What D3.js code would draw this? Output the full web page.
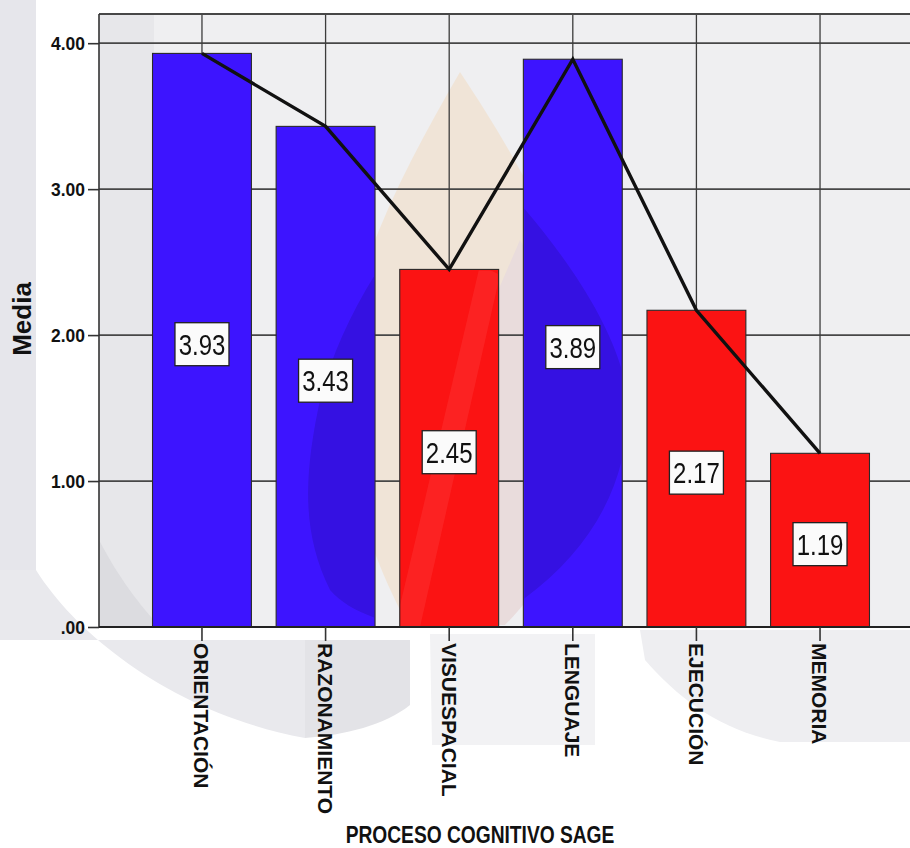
<!DOCTYPE html>
<html>
<head>
<meta charset="utf-8">
<script src="https://cdn.jsdelivr.net/npm/d3@7"></script>
<style>
  html, body { margin: 0; padding: 0; background: #ffffff; }
  svg { display: block; font-family: "Liberation Sans", Arial, sans-serif; }
</style>
</head>
<body>
<svg id="chart" width="910" height="848"></svg>
<script>
// Mean score per SAGE cognitive process
const categories = ["ORIENTACIÓN", "RAZONAMIENTO", "VISUESPACIAL", "LENGUAJE", "EJECUCIÓN", "MEMORIA"];
const means = [3.93, 3.43, 2.45, 3.89, 2.17, 1.19];
const groups = ["alto", "alto", "bajo", "alto", "bajo", "bajo"];
const yTicks = [0, 1, 2, 3, 4];
const yTitle = "Media";
const xTitle = "PROCESO COGNITIVO SAGE";

const data = categories.map((c, i) => ({ cat: c, value: means[i], group: groups[i] }));

const W = 910, H = 848;
const plot = { left: 99, right: 923, top: 14, bottom: 627 };

const svg = d3.select("#chart");
const defs = svg.append("defs");

const x = d3.scaleBand()
  .domain(categories)
  .range([plot.left, plot.right])
  .paddingInner(0.2)
  .paddingOuter(0.433);

const y = d3.scaleLinear()
  .domain([0, 4.2])
  .range([plot.bottom, plot.top]);

const color = d3.scaleOrdinal()
  .domain(["alto", "bajo"])
  .range(["#3d14ff", "#fb1313"]);

const tickFmt = v => v === 0 ? ".00" : d3.format(".2f")(v);

// ---- faint background shapes behind the chart ----
const bg = svg.append("g");
bg.append("rect").attr("x", 0).attr("y", 0).attr("width", 36).attr("height", 570).attr("fill", "#e6e6eb");
bg.append("path")
  .attr("d", "M0,570 L36,570 C80,640 180,715 305,738 L305,640 L0,640 Z")
  .attr("fill", "#e9e9ed");
bg.append("path")
  .attr("d", "M305,640 L410,640 L410,705 C385,725 345,735 305,738 Z")
  .attr("fill", "#e3e3e7");
bg.append("path")
  .attr("d", "M430,634 L595,634 L595,745 L432,745 Z")
  .attr("fill", "#f2f2f4");
bg.append("path")
  .attr("d", "M640,630 L910,630 L910,742 L780,742 C720,730 680,700 645,660 Z")
  .attr("fill", "#eeeef1");

// ---- plot area ----
defs.append("clipPath").attr("id", "plotclip")
  .append("rect").attr("x", plot.left).attr("y", 0).attr("width", W - plot.left).attr("height", plot.bottom + 1);

const pg = svg.append("g").attr("clip-path", "url(#plotclip)");

pg.append("rect")
  .attr("x", plot.left).attr("y", plot.top)
  .attr("width", plot.right - plot.left).attr("height", plot.bottom - plot.top)
  .attr("fill", "#efeff1");
pg.append("rect")
  .attr("x", plot.left).attr("y", plot.top)
  .attr("width", 55).attr("height", plot.bottom - plot.top)
  .attr("fill", "#e7e7ea");
pg.append("path")
  .attr("d", `M${plot.left},540 C120,580 140,605 160,${plot.bottom} L${plot.left},${plot.bottom} Z`)
  .attr("fill", "#dcdce0");
// soft teardrop tint in the middle of the plot
pg.append("path")
  .attr("d", "M460,72 C505,140 560,230 585,330 C595,430 560,540 505,610 L400,610 C360,530 335,440 345,340 C365,240 415,150 460,72 Z")
  .attr("fill", "#f0e4d7");
pg.append("path")
  .attr("d", "M520,240 C575,330 590,420 575,500 C560,560 530,600 505,625 L494,625 L494,300 Z")
  .attr("fill", "#e9dcdc");

// gridlines
pg.append("g").selectAll("line.h")
  .data(yTicks.filter(t => t > 0))
  .join("line")
  .attr("x1", plot.left).attr("x2", W)
  .attr("y1", d => y(d)).attr("y2", d => y(d))
  .attr("stroke", "#474747").attr("stroke-width", 1.7);

pg.append("g").selectAll("line.v")
  .data(categories)
  .join("line")
  .attr("x1", d => x(d) + x.bandwidth() / 2).attr("x2", d => x(d) + x.bandwidth() / 2)
  .attr("y1", plot.top).attr("y2", plot.bottom)
  .attr("stroke", "#3c3c3c").attr("stroke-width", 1.3);

// top frame
pg.append("line")
  .attr("x1", plot.left).attr("x2", W)
  .attr("y1", plot.top).attr("y2", plot.top)
  .attr("stroke", "#474747").attr("stroke-width", 1.9);

// bars
pg.append("g").selectAll("rect")
  .data(data)
  .join("rect")
  .attr("x", d => x(d.cat))
  .attr("y", d => y(d.value))
  .attr("width", x.bandwidth())
  .attr("height", d => y(0) - y(d.value))
  .attr("fill", d => color(d.group))
  .attr("stroke", "#2a2a2a")
  .attr("stroke-width", 1.1);

// deeper shade across the middle of the blue bars
defs.append("clipPath").attr("id", "bluebars")
  .selectAll("rect")
  .data(data.filter(d => d.group === "alto"))
  .join("rect")
  .attr("x", d => x(d.cat) + 1)
  .attr("y", d => y(d.value) + 1)
  .attr("width", x.bandwidth() - 2)
  .attr("height", d => y(0) - y(d.value) - 2);
pg.append("path")
  .attr("clip-path", "url(#bluebars)")
  .attr("d", "M470,150 C560,240 620,330 628,400 C630,490 585,560 505,612 C440,640 360,625 330,590 C300,530 305,470 320,400 C345,300 410,220 470,150 Z")
  .attr("fill", "#dcd0e2")
  .style("mix-blend-mode", "multiply");

// lighter diagonal stripe on the central red bar
const vis = data[2];
defs.append("clipPath").attr("id", "visbar")
  .append("rect")
  .attr("x", x(vis.cat) + 1).attr("y", y(vis.value) + 1)
  .attr("width", x.bandwidth() - 2).attr("height", y(0) - y(vis.value) - 2);
pg.append("path")
  .attr("clip-path", "url(#visbar)")
  .attr("d", "M480,265 L500,275 L420,627 L395,627 Z")
  .attr("fill", "#ff3a3a")
  .attr("opacity", 0.4);

// line through the means
const line = d3.line()
  .x(d => x(d.cat) + x.bandwidth() / 2)
  .y(d => y(d.value));
pg.append("path")
  .datum(data)
  .attr("d", line)
  .attr("fill", "none")
  .attr("stroke", "#111")
  .attr("stroke-width", 3.4)
  .attr("stroke-linejoin", "miter");

// value labels
const lab = pg.append("g").selectAll("g")
  .data(data)
  .join("g")
  .attr("transform", d => `translate(${x(d.cat) + x.bandwidth() / 2},${y(d.value / 2) + 4})`);
lab.append("rect")
  .attr("x", -27).attr("y", -21.5)
  .attr("width", 54).attr("height", 43)
  .attr("fill", "#fbfbfb")
  .attr("stroke", "#222").attr("stroke-width", 1.3);
lab.append("text")
  .attr("transform", "scale(0.8,1)")
  .attr("text-anchor", "middle")
  .attr("dy", "0.36em")
  .attr("font-size", 30)
  .attr("fill", "#111")
  .text(d => d.value.toFixed(2));

// ---- axes ----
const yAxis = svg.append("g").attr("transform", `translate(${plot.left},0)`)
  .call(d3.axisLeft(y).tickValues(yTicks).tickFormat(tickFmt).tickSize(11).tickPadding(2));
yAxis.select(".domain").attr("stroke", "#333").attr("stroke-width", 1.6)
  .attr("d", `M0,${plot.top}V${plot.bottom}`);
yAxis.selectAll(".tick line").attr("stroke", "#333").attr("stroke-width", 1.6);
yAxis.selectAll(".tick text")
  .attr("font-family", "'Liberation Sans', Arial, sans-serif")
  .attr("font-size", 19).attr("font-weight", "bold").attr("fill", "#111")
  .attr("transform", "scale(0.92,1)")
  .attr("x", -14 / 0.92);

const xAxis = svg.append("g").attr("transform", `translate(0,${plot.bottom})`)
  .call(d3.axisBottom(x).tickSize(14).tickPadding(0));
xAxis.select(".domain").attr("stroke", "#222").attr("stroke-width", 2)
  .attr("d", `M${plot.left},0H${W}`);
xAxis.selectAll(".tick line").attr("stroke", "#333").attr("stroke-width", 1.6);
xAxis.selectAll(".tick text")
  .attr("font-family", "'Liberation Sans', Arial, sans-serif")
  .attr("font-size", 21).attr("font-weight", "bold").attr("fill", "#111")
  .attr("text-anchor", "start")
  .attr("transform", "rotate(90)")
  .attr("x", 16).attr("y", 0).attr("dy", "0.36em");

// axis titles
svg.append("text")
  .attr("transform", "translate(31,319) rotate(-90)")
  .attr("text-anchor", "middle")
  .attr("font-size", 26).attr("font-weight", "bold").attr("fill", "#111")
  .text(yTitle);

svg.append("text")
  .attr("transform", "translate(480,843) scale(0.8,1)")
  .attr("text-anchor", "middle")
  .attr("font-size", 24).attr("font-weight", "bold").attr("fill", "#111")
  .text(xTitle);
</script>
</body>
</html>
